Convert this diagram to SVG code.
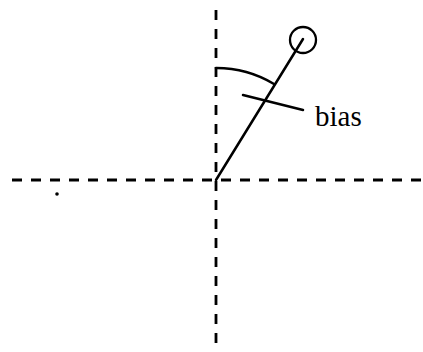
<svg xmlns="http://www.w3.org/2000/svg" width="423" height="352" viewBox="0 0 423 352">
<style>
.axis{stroke:#000;stroke-width:2.8;fill:none;stroke-dasharray:10 9}
.ln{stroke:#000;stroke-width:2.5;fill:none;stroke-linecap:round}
.lbl{font-family:"Liberation Serif","Times New Roman",serif;font-size:29px;fill:#000}
</style>
<rect width="423" height="352" fill="#fff"/>
<g id="axes">
<line class="axis" x1="12" y1="180" x2="423" y2="180"/>
<line class="axis" x1="216" y1="10" x2="216" y2="352"/>
</g>
<g id="connectors">
<line class="ln" x1="216" y1="180" x2="303" y2="39"/>
<path class="ln" d="M216,68 A112,112 0 0 1 274,84"/>
<line class="ln" x1="243" y1="95" x2="303" y2="110"/>
</g>
<g id="node-circle">
<circle cx="303" cy="40" r="13" fill="none" stroke="#000" stroke-width="2.3"/>
</g>
<g id="node-label">
<text class="lbl" x="315" y="126">bias</text>
</g>
<circle cx="57" cy="194" r="1.8" fill="#000"/>
</svg>
